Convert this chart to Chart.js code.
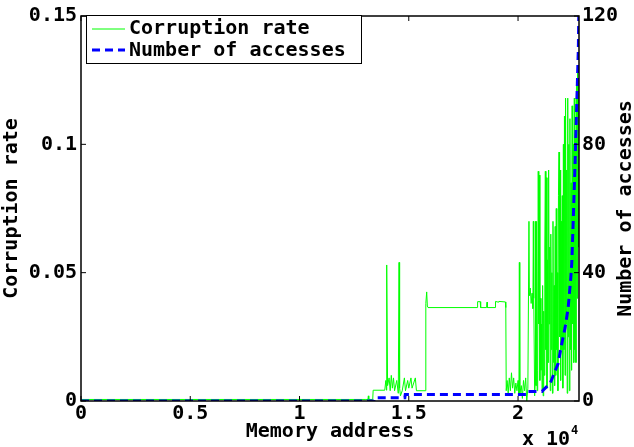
<!DOCTYPE html>
<html>
<head>
<meta charset="utf-8">
<script src="https://cdn.jsdelivr.net/npm/chart.js@4"></script>
<style>
body { margin: 0; background: #fff; }
</style>
</head>
<body>
<canvas id="chart" width="634" height="447"></canvas>
<script>
// tick values of the three axes
const xTicks = [0, 5000, 10000, 15000, 20000];
const rateTicks = [0, 0.05, 0.1, 0.15];
const accessTicks = [0, 40, 80, 120];

// corruption rate (address, rate)
const rateAddr = [0, 13000, 13130, 13150, 13170, 13350, 13370, 13900, 13950, 13980,
  13990, 14030, 14100, 14150, 14200, 14250, 14300, 14350, 14450, 14520,
  14555, 14580, 14620, 14700, 14800, 14850, 14950, 15000, 15100, 15150,
  15300, 15350, 15750, 15780, 15820, 15850, 15880, 18130, 18150, 18270,
  18290, 18560, 18580, 18600, 18950, 18970, 19100, 19120, 19420, 19440,
  19460, 19500, 19550, 19600, 19650, 19700, 19750, 19800, 19850, 19900,
  19950, 20000, 20040, 20060, 20080, 20150, 20200, 20250, 20300, 20350,
  20400, 20450, 20500, 20520, 20560, 20600, 20640, 20680, 20700, 20720,
  20760, 20780,
  20800, 20825, 20850, 20875, 20900, 20925, 20950, 20975, 21000, 21025,
  21050, 21075, 21100, 21125, 21150, 21175, 21200, 21225, 21250, 21275,
  21300, 21325, 21350, 21375, 21400, 21425, 21450, 21475, 21500, 21525,
  21550, 21575, 21600, 21625, 21650, 21675, 21700, 21725, 21750, 21775,
  21800, 21825, 21850, 21875, 21900, 21925, 21950, 21975, 22000, 22025,
  22050, 22075, 22100, 22125, 22150, 22175, 22200, 22225, 22250, 22275,
  22300, 22325, 22350, 22375, 22400, 22425, 22450, 22475, 22500, 22525,
  22550, 22575, 22600, 22625, 22650, 22675, 22700, 22725, 22750, 22775,
  22790];
const rateValues = [0.0006, 0.0006, 0.0006, 0.002, 0.0006, 0.0006, 0.0042, 0.0042, 0.008, 0.0042,
  0.053, 0.006, 0.009, 0.004, 0.01, 0.005, 0.009, 0.004, 0.008, 0.003,
  0.054, 0.005, 0.002, 0.004, 0.009, 0.004, 0.008, 0.005, 0.009, 0.005,
  0.009, 0.004, 0.004, 0.038, 0.0425, 0.037, 0.0364, 0.0364, 0.0387, 0.0387,
  0.0364, 0.0364, 0.0385, 0.0364, 0.0364, 0.0388, 0.0385, 0.0388, 0.0386, 0.0364,
  0.004, 0.008, 0.003, 0.009, 0.004, 0.011, 0.005, 0.009, 0.003, 0.007,
  0.004, 0.008, 0.002, 0.054, 0.003, 0.006, 0.001, 0.008, 0.004, 0.009,
  0.0, 0.005, 0.07, 0.041, 0.044, 0.038, 0.042, 0.036, 0.07, 0.04,
  0.002, 0.006,
  0.07, 0.006, 0.07, 0.004, 0.012, 0.0895, 0.03, 0.088, 0.008, 0.04,
  0.012, 0.03, 0.004, 0.045, 0.002, 0.035, 0.01, 0.06, 0.0895, 0.02,
  0.087, 0.005, 0.055, 0.015, 0.09, 0.03, 0.06, 0.004, 0.065, 0.02,
  0.05, 0.003, 0.07, 0.015, 0.045, 0.006, 0.068, 0.01, 0.075, 0.02,
  0.05, 0.004, 0.08, 0.097, 0.025, 0.09, 0.008, 0.07, 0.02, 0.08,
  0.005, 0.1, 0.02, 0.111, 0.01, 0.118, 0.03, 0.09, 0.003, 0.118,
  0.025, 0.1, 0.004, 0.11, 0.02, 0.085, 0.012, 0.115, 0.03, 0.1,
  0.015, 0.118, 0.02, 0.105, 0.015, 0.125, 0.04, 0.13, 0.06, 0.125,
  0.1];

// number of accesses (address, count)
const accessAddr = [0, 13400, 13450, 14820, 14840, 20380, 20420, 21100, 21150, 21470,
  21830, 22000, 22150, 22290, 22410, 22460, 22520, 22610, 22650, 22715,
  22760, 22780];
const accessValues = [0, 0, 1, 1, 2, 2, 3, 3, 3.4, 5.5,
  11.6, 17.8, 22.7, 28.8, 38, 43, 55, 74, 84, 99,
  110, 120];

const font = { family: 'DejaVu Sans Mono', weight: 'bold', size: 20, lineHeight: 1.2 };
const canvasFont = 'bold 20px "DejaVu Sans Mono"';

function points(xs, ys) {
  return xs.map((x, i) => ({ x: x, y: ys[i] }));
}

// frame, inward ticks, legend, right title and the x 10^4 note
const extrasPlugin = {
  id: 'extras',
  afterDatasetsDraw(chart) {
    const ctx = chart.ctx;
    const a = chart.chartArea;
    const sx = chart.scales.x, sl = chart.scales.y, sr = chart.scales.y2;
    ctx.save();
    ctx.strokeStyle = '#000';
    ctx.lineWidth = 1;
    ctx.beginPath();
    sx.ticks.forEach(t => {
      const px = sx.getPixelForValue(t.value);
      ctx.moveTo(px, a.bottom); ctx.lineTo(px, a.bottom - 5);
      ctx.moveTo(px, a.top); ctx.lineTo(px, a.top + 5);
    });
    sl.ticks.forEach(t => {
      const py = sl.getPixelForValue(t.value);
      ctx.moveTo(a.left, py); ctx.lineTo(a.left + 5, py);
    });
    sr.ticks.forEach(t => {
      const py = sr.getPixelForValue(t.value);
      ctx.moveTo(a.right, py); ctx.lineTo(a.right - 5, py);
    });
    ctx.stroke();
    ctx.lineWidth = 1.5;
    ctx.strokeRect(a.left, a.top, a.right - a.left, a.bottom - a.top);

    // legend
    ctx.fillStyle = '#fff';
    ctx.fillRect(86, 15, 275, 48);
    ctx.lineWidth = 1;
    ctx.strokeRect(86.5, 15.5, 275, 48);
    ctx.strokeStyle = '#00ff00';
    ctx.beginPath(); ctx.moveTo(92, 29); ctx.lineTo(125, 29); ctx.stroke();
    ctx.strokeStyle = '#0000ff';
    ctx.lineWidth = 3;
    ctx.setLineDash([8, 5]);
    ctx.beginPath(); ctx.moveTo(92, 50); ctx.lineTo(125, 50); ctx.stroke();
    ctx.setLineDash([]);
    ctx.fillStyle = '#000';
    ctx.font = canvasFont;
    ctx.textAlign = 'left';
    ctx.textBaseline = 'middle';
    ctx.fillText('Corruption rate', 129, 29);
    ctx.fillText('Number of accesses', 129, 51);

    // x 10^4
    ctx.fillText('x 10', 522, 440);
    ctx.font = 'bold 12px "DejaVu Sans Mono"';
    ctx.fillText('4', 571, 431);

    // right axis title, reading bottom to top
    ctx.font = canvasFont;
    ctx.translate(626, (a.top + a.bottom) / 2);
    ctx.rotate(-Math.PI / 2);
    ctx.textAlign = 'center';
    ctx.fillText('Number of accesses', 0, 0);
    ctx.restore();
  }
};

new Chart(document.getElementById('chart'), {
  type: 'line',
  data: {
    datasets: [{
      label: 'Corruption rate',
      data: points(rateAddr, rateValues),
      borderColor: '#00ff00',
      borderWidth: 1,
      pointRadius: 0,
      tension: 0,
      yAxisID: 'y',
      order: 2
    }, {
      label: 'Number of accesses',
      data: points(accessAddr, accessValues),
      borderColor: '#0000ff',
      borderWidth: 3,
      borderDash: [8, 5],
      pointRadius: 0,
      tension: 0,
      yAxisID: 'y2',
      order: 1
    }]
  },
  options: {
    responsive: false,
    animation: false,
    devicePixelRatio: 1,
    layout: { padding: { top: 9, left: 0, right: 0, bottom: 0 }, autoPadding: false },
    plugins: { legend: { display: false }, tooltip: { enabled: false } },
    scales: {
      x: {
        type: 'linear',
        min: 0,
        max: 22790,
        afterBuildTicks: s => { s.ticks = xTicks.map(v => ({ value: v })); },
        afterFit: s => { s.height = 46; },
        grid: { display: false, drawTicks: false },
        border: { display: false },
        ticks: { color: '#000', font: font, padding: 1, maxRotation: 0,
          callback: v => String(v / 10000) },
        title: { display: true, text: 'Memory address', color: '#000', font: font,
          padding: { top: 0, bottom: 3 } }
      },
      y: {
        position: 'left',
        min: 0,
        max: 0.15,
        afterBuildTicks: s => { s.ticks = rateTicks.map(v => ({ value: v })); },
        afterFit: s => { s.width = 81; },
        grid: { display: false, drawTicks: false },
        border: { display: false },
        ticks: { color: '#000', font: font, padding: 4, callback: v => String(v) },
        title: { display: true, text: 'Corruption rate', color: '#000', font: font,
          padding: { top: 0, bottom: 0 } }
      },
      y2: {
        position: 'right',
        min: 0,
        max: 120,
        afterBuildTicks: s => { s.ticks = accessTicks.map(v => ({ value: v })); },
        afterFit: s => { s.width = 55; },
        grid: { display: false, drawTicks: false },
        border: { display: false },
        ticks: { color: '#000', font: font, padding: 3, callback: v => String(v) }
      }
    }
  },
  plugins: [extrasPlugin]
});
</script>
</body>
</html>
